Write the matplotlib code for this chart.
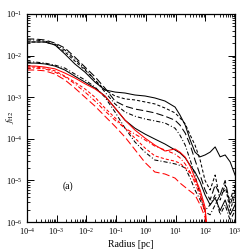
import numpy as np
import matplotlib
matplotlib.use("Agg")
import matplotlib.pyplot as plt

plt.rcParams['font.family'] = ['Liberation Serif', 'DejaVu Serif']
plt.rcParams['mathtext.fontset'] = 'stix'

# radius grid [pc]
radius = [1e-4, 1.9e-4, 4e-4, 8.8e-4, 1.9e-3, 4.1e-3, 9e-3, 1.95e-2, 4.2e-2, 9.2e-2,
          0.2, 0.43, 0.94, 2.0, 4.4, 9.6, 14, 21, 31, 45, 67, 98, 145, 214, 315, 464, 684, 1000]

# black curves, upper group
blk_solid = [2.12e-2, 2.12e-2, 2.12e-2, 1.8e-2, 1.09e-2, 6.3e-3, 4.0e-3, 2.3e-3, 1.5e-3, 1.33e-3,
             1.26e-3, 1.13e-3, 1.07e-3, 9.6e-4, 8.1e-4, 5.8e-4, 3.75e-4, 2.15e-4, 9.4e-5, 4.8e-5,
             3.7e-5, 4.1e-5, 4.8e-5, 6.4e-5, 3.7e-5, 4.1e-5, 2.8e-5, 1.35e-5]
blk_dash = [2.12e-2, 2.12e-2, 2.12e-2, 1.8e-2, 1.22e-2, 7.4e-3, 4.5e-3, 2.6e-3, 1.5e-3, 1.07e-3,
            9.1e-4, 8.6e-4, 7.7e-4, 6.9e-4, 5.5e-4, 4.2e-4, 3.2e-4, 2.3e-4, 1.23e-4, 7.1e-5,
            3.1e-5, 1.0e-5, 5.9e-6, 1.35e-5, 3.4e-6, 7.8e-6, 1.9e-6, 4.5e-6]
blk_long = [2.5e-2, 2.5e-2, 2.37e-2, 2.0e-2, 1.52e-2, 9.2e-3, 5.3e-3, 3.1e-3, 1.66e-3, 8.1e-4,
            6.1e-4, 5.2e-4, 4.7e-4, 4.2e-4, 3.5e-4, 2.8e-4, 2.15e-4, 1.38e-4, 7.1e-5, 3.1e-5,
            1.35e-5, 5.9e-6, 3.4e-6, 7.8e-6, 4.5e-6, 1.0e-5, 2.6e-6, 5.9e-6]
blk_dashdot = [2.37e-2, 2.37e-2, 2.24e-2, 1.9e-2, 1.36e-2, 8.3e-3, 4.8e-3, 2.6e-3, 1.33e-3, 6.9e-4,
               4.4e-4, 3.5e-4, 3.0e-4, 2.7e-4, 2.4e-4, 1.8e-4, 1.23e-4, 7.1e-5, 3.1e-5, 1.35e-5,
               4.5e-6, 1.75e-6, 1.5e-6, 2.6e-6, 4.5e-6, 5.9e-6, 3.4e-6, 7.8e-6]

# black curves, lower group
blk2_solid = [6.6e-3, 6.6e-3, 6.3e-3, 5.6e-3, 4.5e-3, 3.2e-3, 2.3e-3, 1.66e-3, 1.07e-3, 5.5e-4,
              2.8e-4, 1.8e-4, 1.3e-4, 9.9e-5, 7.5e-5, 5.4e-5, 4.6e-5, 3.5e-5, 2.3e-5, 1.6e-5,
              9.2e-6, 4.5e-6, 2.6e-6, 3.8e-6, 1.9e-6, 3.4e-6, 1.5e-6, 2.6e-6]
blk2_dashdot = [7.0e-3, 7.0e-3, 6.6e-3, 5.9e-3, 5.0e-3, 3.6e-3, 2.6e-3, 1.76e-3, 1.0e-3, 4.4e-4,
                1.8e-4, 8.4e-5, 4.8e-5, 3.1e-5, 2.8e-5, 2.5e-5, 2.3e-5, 2.0e-5, 1.14e-5, 5.9e-6,
                3.4e-6, 1.9e-6, 2.6e-6, 4.5e-6, 1.5e-6, 2.6e-6, 1.1e-6, 1.9e-6]

# red curves
red_solid = [5.6e-3, 5.6e-3, 5.3e-3, 4.8e-3, 3.8e-3, 2.9e-3, 2.1e-3, 1.58e-3, 1.07e-3, 5.5e-4,
             2.8e-4, 1.63e-4, 1.04e-4, 7.1e-5, 5.1e-5, 5.7e-5, 4.8e-5, 3.65e-5, 2.2e-5, 1.14e-5,
             5.9e-6, 2.3e-6, 1e-7, 1e-7, 1e-7, 1e-7, 1e-7, 1e-7]
red_dash = [5.3e-3, 5.3e-3, 5.0e-3, 4.3e-3, 3.2e-3, 2.3e-3, 1.58e-3, 1.0e-3, 5.5e-4, 3.2e-4,
            1.8e-4, 1.04e-4, 6.0e-5, 3.9e-5, 3.3e-5, 2.9e-5, 2.6e-5, 2.0e-5, 1.5e-5, 1.0e-5,
            5.2e-6, 1.9e-6, 1e-7, 1e-7, 1e-7, 1e-7, 1e-7, 1e-7]
red_dashdot = [5.0e-3, 5.0e-3, 4.8e-3, 4.0e-3, 3.1e-3, 2.1e-3, 1.33e-3, 8.1e-4, 4.7e-4, 2.8e-4,
               1.8e-4, 1.3e-4, 9.4e-5, 6.7e-5, 5.4e-5, 4.3e-5, 3.5e-5, 2.5e-5, 1.6e-5, 8.7e-6,
               4.2e-6, 1.7e-6, 1e-7, 1e-7, 1e-7, 1e-7, 1e-7, 1e-7]
red_long = [4.5e-3, 4.5e-3, 4.3e-3, 3.6e-3, 2.6e-3, 1.66e-3, 1.0e-3, 6.1e-4, 3.5e-4, 2.0e-4,
            1.1e-4, 5.5e-5, 2.7e-5, 1.6e-5, 1.43e-5, 1.14e-5, 8.7e-6, 6.9e-6, 5.5e-6, 4.5e-6,
            2.6e-6, 1.3e-6, 1e-7, 1e-7, 1e-7, 1e-7, 1e-7, 1e-7]

xticks = [1e-4, 1e-3, 1e-2, 1e-1, 1e0, 1e1, 1e2, 1e3]
yticks = [1e-6, 1e-5, 1e-4, 1e-3, 1e-2, 1e-1]

sdash = (0, (3, 2))
ldash = (0, (7, 3))
ddot = (0, (4, 2, 1, 2))

fig = plt.figure(figsize=(2.49, 2.49), dpi=100)
ax = fig.add_axes([0.108, 0.108, 0.836, 0.836])

lw = 0.75
ax.plot(radius, blk_solid, color='k', lw=lw, ls='-')
ax.plot(radius, blk_dash, color='k', lw=lw, ls=sdash)
ax.plot(radius, blk_long, color='k', lw=lw, ls=ldash)
ax.plot(radius, blk_dashdot, color='k', lw=lw, ls=ddot)
ax.plot(radius, blk2_solid, color='k', lw=lw, ls='-')
ax.plot(radius, blk2_dashdot, color='k', lw=lw, ls=ddot)
ax.plot(radius, red_solid, color='red', lw=lw, ls='-')
ax.plot(radius, red_dash, color='red', lw=lw, ls=sdash)
ax.plot(radius, red_dashdot, color='red', lw=lw, ls=ddot)
ax.plot(radius, red_long, color='red', lw=lw, ls=ldash)

ax.set_xscale('log')
ax.set_yscale('log')
ax.set_xlim(1e-4, 1e3)
ax.set_ylim(1e-6, 1e-1)
ax.set_xticks(xticks)
ax.set_yticks(yticks)
ax.tick_params(which='both', direction='in', top=True, right=True, labelsize=6, pad=3)
ax.tick_params(which='major', length=5, width=0.7)
ax.tick_params(which='minor', length=2.5, width=0.6)
ax.xaxis.set_minor_locator(matplotlib.ticker.LogLocator(base=10, subs=np.arange(2, 10), numticks=20))
ax.yaxis.set_minor_locator(matplotlib.ticker.LogLocator(base=10, subs=np.arange(2, 10), numticks=20))
ax.xaxis.set_minor_formatter(matplotlib.ticker.NullFormatter())
ax.yaxis.set_minor_formatter(matplotlib.ticker.NullFormatter())
for s in ax.spines.values():
    s.set_linewidth(0.9)

ax.set_xlabel('Radius [pc]', fontsize=7, labelpad=2)
fig.text(0.04, 0.53, r'$f_{\rm H2}$', fontsize=6.5, rotation=90, ha='center', va='center')
ax.text(0.17, 0.16, '(a)', transform=ax.transAxes, fontsize=7)

fig.savefig('out.png', dpi=100)
